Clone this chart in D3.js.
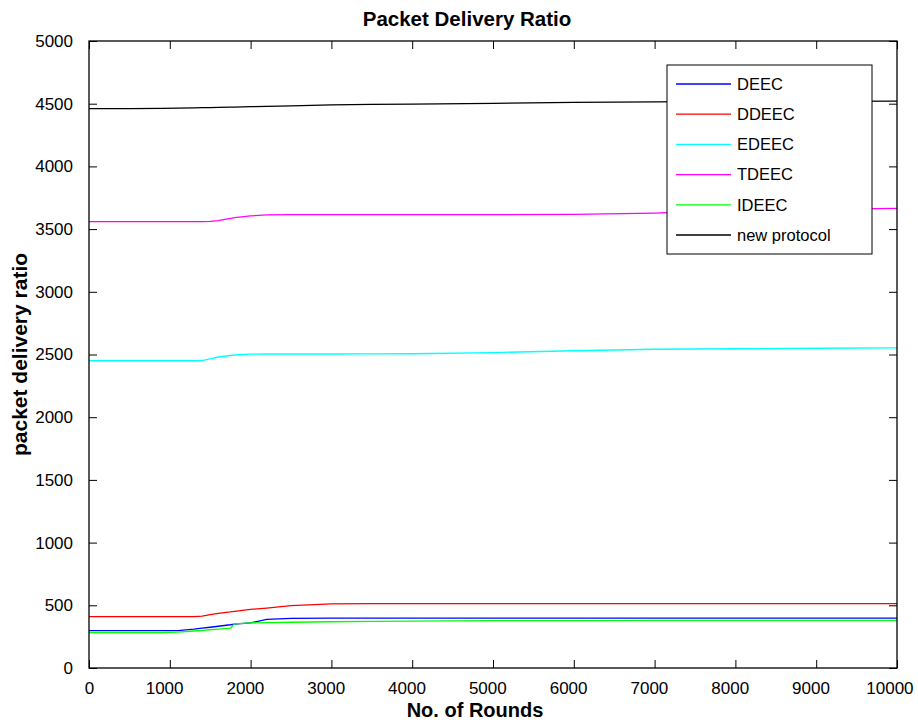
<!DOCTYPE html>
<html>
<head>
<meta charset="utf-8">
<script src="https://cdn.jsdelivr.net/npm/d3@7"></script>
<style>
  html, body { margin: 0; padding: 0; background: #fff; }
  svg { display: block; font-family: "Liberation Sans", Arial, sans-serif; }
</style>
</head>
<body>
<svg id="chart" width="918" height="724"></svg>
<script>
// Rounds at which each protocol was sampled
const rounds = [0, 500, 900, 1100, 1300, 1400, 1500, 1600, 1750, 1800, 2000, 2200, 2500, 3000, 3500, 4000, 5000, 6000, 7000, 7500, 8000, 9000, 10000];

// Packet delivery ratio per protocol
const deec        = [298, 298, 298, 298, 310, 318, 325, 333, 345, 350, 360, 388, 396, 398, 398, 398, 398, 398, 398, 398, 398, 398, 398];
const ddeec       = [410, 410, 410, 410, 410, 413, 425, 435, 447, 452, 468, 478, 497, 512, 513, 513, 513, 513, 513, 513, 513, 513, 513];
const edeec       = [2450, 2450, 2450, 2450, 2450, 2452, 2465, 2480, 2492, 2496, 2503, 2504, 2504, 2504, 2505, 2506, 2515, 2530, 2542, 2544, 2546, 2550, 2553];
const tdeec       = [3560, 3560, 3560, 3560, 3560, 3560, 3562, 3568, 3585, 3592, 3605, 3614, 3615, 3615, 3615, 3615, 3615, 3617, 3628, 3640, 3648, 3658, 3665];
const ideec       = [282, 282, 282, 286, 295, 300, 305, 310, 318, 352, 360, 362, 365, 369, 372, 374, 377, 378, 379, 379, 380, 380, 380];
const newProtocol = [4460, 4461, 4463, 4465, 4467, 4468, 4469, 4470, 4472, 4473, 4476, 4479, 4483, 4490, 4494, 4497, 4503, 4510, 4514, 4516, 4517, 4519, 4520];

const seriesNames  = ["DEEC", "DDEEC", "EDEEC", "TDEEC", "IDEEC", "new protocol"];
const seriesValues = [deec, ddeec, edeec, tdeec, ideec, newProtocol];
const seriesColors = ["#0000ff", "#ff0000", "#00ffff", "#ff00ff", "#00ff00", "#000000"];

const xTicks = [0, 1000, 2000, 3000, 4000, 5000, 6000, 7000, 8000, 9000, 10000];
const yTicks = [0, 500, 1000, 1500, 2000, 2500, 3000, 3500, 4000, 4500, 5000];

const titleText = "Packet Delivery Ratio";
const xLabel = "No. of Rounds";
const yLabel = "packet delivery ratio";

const svg = d3.select("#chart");
const plot = { left: 89, top: 41, right: 897, bottom: 668 };

const x = d3.scaleLinear().domain([0, 10000]).range([plot.left, plot.right]);
const y = d3.scaleLinear().domain([0, 5000]).range([plot.bottom, plot.top]);

const tickLen = 8;
const tickFont = 17;

// Series lines, clipped to the axes box
svg.append("defs").append("clipPath").attr("id", "plotClip")
  .append("rect")
  .attr("x", plot.left).attr("y", plot.top)
  .attr("width", plot.right - plot.left).attr("height", plot.bottom - plot.top);

const line = d3.line()
  .x((d, i) => x(rounds[i]))
  .y(d => y(d));

const linesG = svg.append("g").attr("clip-path", "url(#plotClip)");
seriesValues.forEach((vals, k) => {
  linesG.append("path")
    .datum(vals)
    .attr("fill", "none")
    .attr("stroke", seriesColors[k])
    .attr("stroke-width", 1.3)
    .attr("d", line);
});

// Axes: inward ticks on all four sides
const axisStyle = g => {
  g.select(".domain").remove();
  g.selectAll(".tick line").attr("stroke", "#000").attr("stroke-width", 1);
};

svg.append("g")
  .attr("transform", `translate(0,${plot.bottom})`)
  .call(d3.axisBottom(x).tickValues(xTicks).tickFormat(d3.format("d")).tickSizeInner(-tickLen).tickSizeOuter(0).tickPadding(14))
  .call(axisStyle)
  .call(g => g.selectAll("text").attr("font-size", tickFont).attr("fill", "#000")
    .attr("font-family", "Liberation Sans, Arial, sans-serif")
    // longer labels sit slightly left of their tick
    .attr("dx", d => -Math.max(0, String(d).length - 1) * 1.9));

svg.append("g")
  .attr("transform", `translate(0,${plot.top})`)
  .call(d3.axisTop(x).tickValues(xTicks).tickFormat("").tickSizeInner(-tickLen).tickSizeOuter(0))
  .call(axisStyle);

svg.append("g")
  .attr("transform", `translate(${plot.left},0)`)
  .call(d3.axisLeft(y).tickValues(yTicks).tickFormat(d3.format("d")).tickSizeInner(-tickLen).tickSizeOuter(0).tickPadding(16))
  .call(axisStyle)
  .call(g => g.selectAll("text").attr("font-size", tickFont).attr("fill", "#000")
    .attr("font-family", "Liberation Sans, Arial, sans-serif"));

svg.append("g")
  .attr("transform", `translate(${plot.right},0)`)
  .call(d3.axisRight(y).tickValues(yTicks).tickFormat("").tickSizeInner(-tickLen).tickSizeOuter(0))
  .call(axisStyle);

// Axes box
svg.append("rect")
  .attr("x", plot.left).attr("y", plot.top)
  .attr("width", plot.right - plot.left).attr("height", plot.bottom - plot.top)
  .attr("fill", "none").attr("stroke", "#000").attr("stroke-width", 1.3);

// Title and axis labels
svg.append("text")
  .attr("x", 467).attr("y", 26)
  .attr("text-anchor", "middle")
  .attr("font-size", 20.5).attr("font-weight", "bold")
  .text(titleText);

svg.append("text")
  .attr("x", 475).attr("y", 717)
  .attr("text-anchor", "middle")
  .attr("font-size", 20).attr("font-weight", "bold")
  .text(xLabel);

svg.append("text")
  .attr("transform", `translate(27,${(plot.top + plot.bottom) / 2}) rotate(-90)`)
  .attr("text-anchor", "middle")
  .attr("font-size", 21).attr("font-weight", "bold")
  .text(yLabel);

// Legend
const legend = { left: 667, top: 65, width: 205, height: 189, rowStart: 84, rowGap: 30.2 };
const lg = svg.append("g");
lg.append("rect")
  .attr("x", legend.left).attr("y", legend.top)
  .attr("width", legend.width).attr("height", legend.height)
  .attr("fill", "#fff").attr("stroke", "#000").attr("stroke-width", 1);

seriesNames.forEach((name, k) => {
  const ry = legend.rowStart + k * legend.rowGap;
  lg.append("line")
    .attr("x1", 676).attr("x2", 731)
    .attr("y1", ry).attr("y2", ry)
    .attr("stroke", seriesColors[k]).attr("stroke-width", 1.3);
  lg.append("text")
    .attr("x", 737).attr("y", ry)
    .attr("dy", "0.35em")
    .attr("font-size", 16.5)
    .text(name);
});
</script>
</body>
</html>
